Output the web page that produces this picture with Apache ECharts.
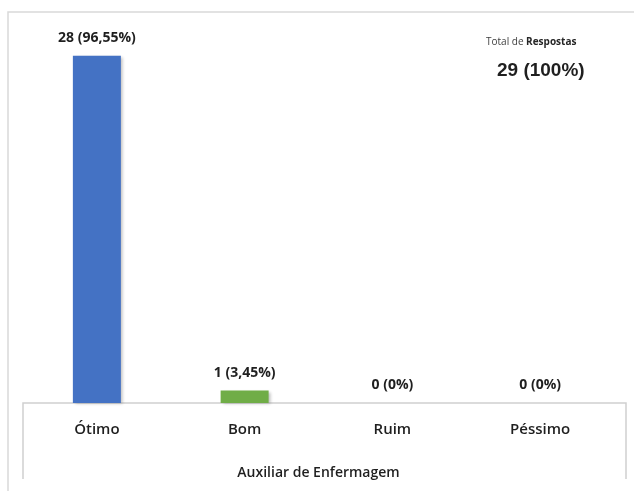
<!DOCTYPE html>
<html>
<head>
<meta charset="utf-8">
<script src="https://cdn.jsdelivr.net/npm/echarts@6/dist/echarts.min.js"></script>
<style>
  html, body { margin: 0; padding: 0; background: #fff; }
  #chart { width: 634px; height: 491px; }
</style>
</head>
<body>
<div id="chart"></div>
<script>
// dados
const categorias = ['Ótimo', 'Bom', 'Ruim', 'Péssimo']
const respostas = [28, 1, 0, 0]
const percentuais = ['96,55%', '3,45%', '0%', '0%']
const cores = ['#4472C4', '#70AD47', '#A5A5A5', '#FFC000']
const totalRespostas = 29

const chart = echarts.init(document.getElementById('chart'))

const option = {
  backgroundColor: '#fff',
  animation: false,
  grid: { left: 23, right: 20, top: 31, bottom: 88 },
  xAxis: {
    type: 'category',
    data: categorias,
    axisLine: { show: false },
    axisTick: { show: false },
    axisLabel: {
      margin: 19,
      fontFamily: 'Open Sans',
      fontWeight: 600,
      fontSize: 15,
      color: '#1f1f1f'
    },
    name: 'Auxiliar de Enfermagem',
    nameLocation: 'middle',
    nameGap: 63,
    nameTextStyle: {
      fontFamily: 'Open Sans',
      fontWeight: 600,
      fontSize: 14,
      color: '#1f1f1f'
    }
  },
  yAxis: {
    type: 'value',
    min: 0,
    max: 30,
    show: false
  },
  series: [{
    type: 'bar',
    barWidth: 48,
    data: respostas.map((v, i) => ({ value: v, itemStyle: { color: cores[i] } })),
    itemStyle: {
      shadowColor: 'rgba(0,0,0,0.25)',
      shadowBlur: 3,
      shadowOffsetX: 2,
      shadowOffsetY: 1
    },
    label: {
      show: true,
      position: 'top',
      distance: 11,
      fontFamily: 'Open Sans',
      fontWeight: 'bold',
      fontSize: 14,
      color: '#1f1f1f',
      formatter: p => p.value + ' (' + percentuais[p.dataIndex] + ')'
    }
  }],
  graphic: [
    // borda externa
    { type: 'polyline', shape: { points: [[8, 491], [8, 12], [634, 12]] }, style: { stroke: '#d9d9d9', lineWidth: 1.5, fill: null } },
    // caixa do eixo
    { type: 'polyline', shape: { points: [[23, 479], [23, 403], [626, 403], [626, 479]] }, style: { stroke: '#d0d0d0', lineWidth: 1.5, fill: null } },
    {
      type: 'text', left: 486, top: 37,
      style: {
        text: '{a|Total de }{b|Respostas}',
        rich: {
          a: { fontFamily: 'Open Sans', fontSize: 10, fill: '#404040', color: '#404040' },
          b: { fontFamily: 'Open Sans', fontSize: 10, fontWeight: 'bold', fill: '#262626', color: '#262626' }
        }
      }
    },
    {
      type: 'text', left: 497, top: 61,
      style: {
        text: totalRespostas + ' (100%)',
        font: 'bold 19px "Liberation Sans", Arial, sans-serif',
        fill: '#1f1f1f'
      }
    }
  ]
}

chart.setOption(option)
</script>
</body>
</html>
